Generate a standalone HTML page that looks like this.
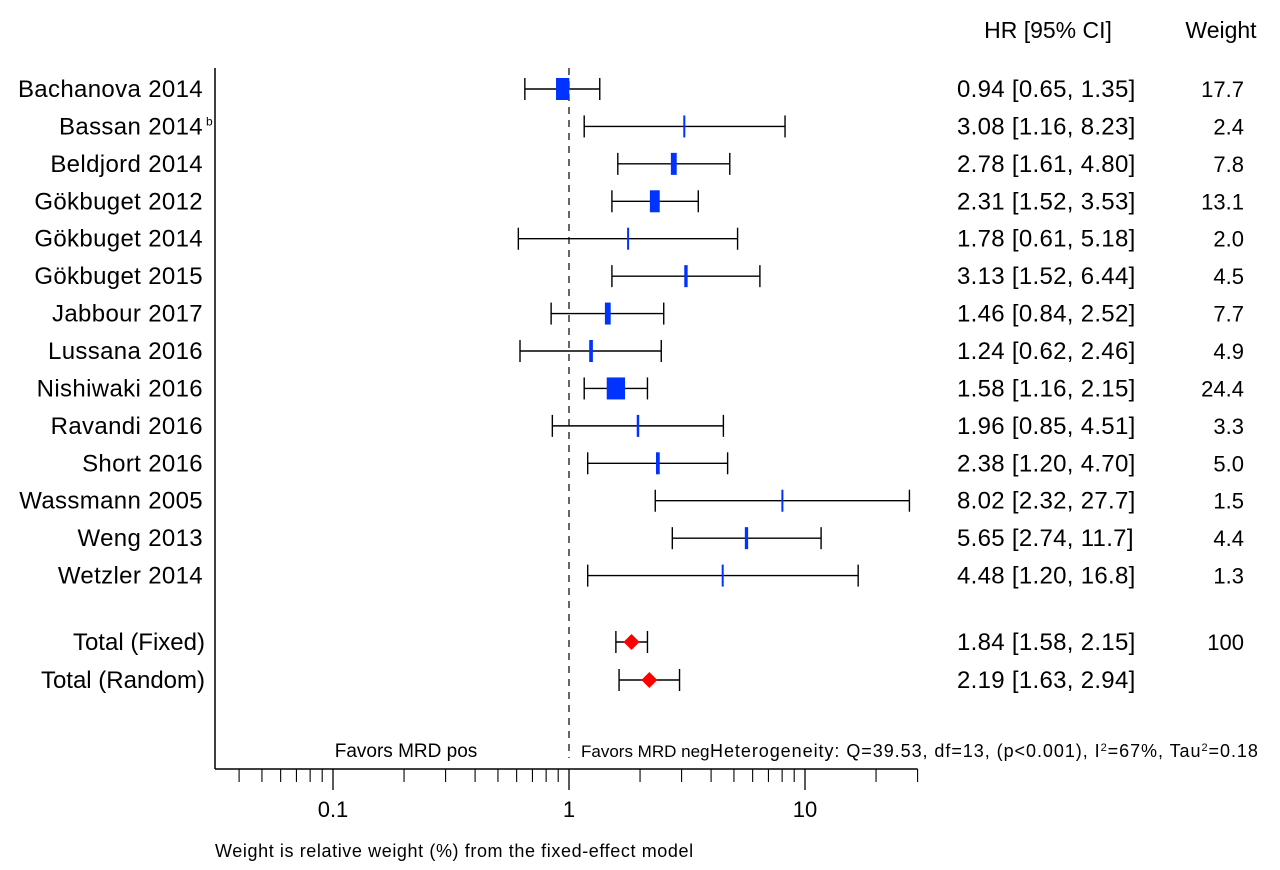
<!DOCTYPE html>
<html><head><meta charset="utf-8"><style>
body{margin:0;background:#fff;}
svg text{font-family:"Liberation Sans",Arial,sans-serif;fill:#000;}
</style></head><body>
<svg id="c" width="1280" height="865" xmlns="http://www.w3.org/2000/svg">
<g id="g"></g>
</svg>
<script>
const studies=["Bachanova 2014","Bassan 2014","Beldjord 2014","Gökbuget 2012","Gökbuget 2014","Gökbuget 2015","Jabbour 2017","Lussana 2016","Nishiwaki 2016","Ravandi 2016","Short 2016","Wassmann 2005","Weng 2013","Wetzler 2014"];
const hr=[0.94,3.08,2.78,2.31,1.78,3.13,1.46,1.24,1.58,1.96,2.38,8.02,5.65,4.48];
const lo=[0.65,1.16,1.61,1.52,0.61,1.52,0.84,0.62,1.16,0.85,1.20,2.32,2.74,1.20];
const hi=[1.35,8.23,4.80,3.53,5.18,6.44,2.52,2.46,2.15,4.51,4.70,27.7,11.7,16.8];
const hrText=["0.94 [0.65, 1.35]","3.08 [1.16, 8.23]","2.78 [1.61, 4.80]","2.31 [1.52, 3.53]","1.78 [0.61, 5.18]","3.13 [1.52, 6.44]","1.46 [0.84, 2.52]","1.24 [0.62, 2.46]","1.58 [1.16, 2.15]","1.96 [0.85, 4.51]","2.38 [1.20, 4.70]","8.02 [2.32, 27.7]","5.65 [2.74, 11.7]","4.48 [1.20, 16.8]"];
const weights=[17.7,2.4,7.8,13.1,2.0,4.5,7.7,4.9,24.4,3.3,5.0,1.5,4.4,1.3];
const totals=["Total (Fixed)","Total (Random)"];
const totHr=[1.84,2.19];
const totLo=[1.58,1.63];
const totHi=[2.15,2.94];
const totText=["1.84 [1.58, 2.15]","2.19 [1.63, 2.94]"];
const totW=["100",""];
const majorTicks=[0.1,1,10];
const minorTicks=[0.04,0.05,0.06,0.07,0.08,0.09,0.2,0.3,0.4,0.5,0.6,0.7,0.8,0.9,2,3,4,5,6,7,8,9,20,30];

const NS="http://www.w3.org/2000/svg";
const g=document.getElementById('g');
const X=v=>569+236*Math.log10(v);
const rowY=i=>89+i*37.43;
const totY=i=>642+i*38;
function el(t,a,txt){const e=document.createElementNS(NS,t);for(const k in a)e.setAttribute(k,a[k]);if(txt!==undefined)e.textContent=txt;g.appendChild(e);return e;}

let e;
e=el('text',{x:1048,y:38,'font-size':23,'text-anchor':'middle'},'HR [95% CI]');


e=el('text',{x:1221,y:38,'font-size':23,'text-anchor':'middle'},'Weight');


e=el('line',{x1:215,y1:68,x2:215,y2:769,stroke:'#000','stroke-width':1.5});


e=el('line',{x1:215,y1:769,x2:X(30),y2:769,stroke:'#000','stroke-width':1.5});


e=el('line',{x1:X(1),y1:68,x2:X(1),y2:758,stroke:'#000','stroke-width':1.2,'stroke-dasharray':'7,6'});


majorTicks.forEach(t=>{
 e=el('line',{x1:X(t),y1:769,x2:X(t),y2:790,stroke:'#000','stroke-width':1.3});
 
 
 e=el('text',{x:X(t),y:817,'font-size':22,'text-anchor':'middle'},String(t));
 
 
});
minorTicks.forEach(t=>{
 e=el('line',{x1:X(t),y1:769,x2:X(t),y2:782,stroke:'#000','stroke-width':1.1});
 
 
});

function ci(y,l,h){
 e=el('line',{x1:X(l),y1:y,x2:X(h),y2:y,stroke:'#000','stroke-width':1.4});
 
 
 [l,h].forEach(v=>{
  e=el('line',{x1:X(v),y1:y-11,x2:X(v),y2:y+11,stroke:'#000','stroke-width':1.4});
  
  
 });
}
studies.forEach((s,i)=>{
 const y=rowY(i);
 e=el('text',{x:203,y:y+8,'font-size':24,'letter-spacing':'0.35','text-anchor':'end'},s);
 
 
 if(i===1){e=el('text',{x:206,y:y-1,'font-size':12},'b');}
 ci(y,lo[i],hi[i]);
 const w=Math.max(2,weights[i]*0.75);
 e=el('rect',{x:X(hr[i])-w/2,y:y-11,width:w,height:22,fill:'#0033ff'});
 
 
 e=el('text',{x:957,y:y+8,'font-size':24,'letter-spacing':'0.3'},hrText[i]);
 
 
 e=el('text',{x:1244,y:y+8,'font-size':22,'text-anchor':'end'},weights[i].toFixed(1));
 
 
});
totals.forEach((s,i)=>{
 const y=totY(i);
 e=el('text',{x:205,y:y+8,'font-size':24,'text-anchor':'end'},s);
 
 
 ci(y,totLo[i],totHi[i]);
 const cx=X(totHr[i]);
 e=el('polygon',{points:`${cx-8},${y} ${cx},${y-8} ${cx+8},${y} ${cx},${y+8}`,fill:'#ff0000'});
 
 
 e=el('text',{x:957,y:y+8,'font-size':24,'letter-spacing':'0.3'},totText[i]);
 
 
 e=el('text',{x:1244,y:y+8,'font-size':22,'text-anchor':'end'},totW[i]);
 
 
});
e=el('text',{x:406,y:757,'font-size':19,'text-anchor':'middle'},'Favors MRD pos');


e=el('text',{x:581,y:757,'font-size':17},'Favors MRD neg');


e=el('text',{x:710,y:757,'font-size':18,'letter-spacing':'0.95'});
e.innerHTML='Heterogeneity: Q=39.53, df=13, (p&lt;0.001), I<tspan font-size="11" dy="-6">2</tspan><tspan dy="6">=67%, Tau</tspan><tspan font-size="11" dy="-6">2</tspan><tspan dy="6">=0.18</tspan>';


e=el('text',{x:215,y:857,'font-size':18,'letter-spacing':'0.6'},'Weight is relative weight (%) from the fixed-effect model');


</script>
</body></html>
